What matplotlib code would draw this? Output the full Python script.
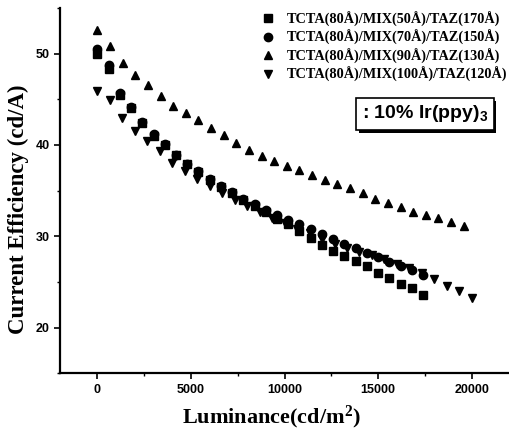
import matplotlib
matplotlib.use("Agg")
import matplotlib.pyplot as plt
from matplotlib.ticker import MultipleLocator
import matplotlib.patheffects as pe

# luminance steps (cd/m^2) per device
x_50 = [600 * i for i in range(30)]
x_70 = [600 * i for i in range(30)]
x_90 = [675 * i for i in range(30)]
x_100 = [667 * i for i in range(31)]

eff_50 = [50.0, 48.3, 45.5, 44.0, 42.4, 41.0, 40.0, 38.9, 37.9, 37.0,
          36.1, 35.4, 34.7, 34.0, 33.3, 32.6, 31.9, 31.3, 30.6, 29.8,
          29.0, 28.4, 27.8, 27.3, 26.7, 26.0, 25.4, 24.8, 24.3, 23.6]
eff_70 = [50.5, 48.7, 45.7, 44.2, 42.5, 41.2, 40.1, 38.9, 37.9, 37.1,
          36.3, 35.5, 34.8, 34.1, 33.5, 32.9, 32.3, 31.8, 31.3, 30.8,
          30.2, 29.7, 29.2, 28.7, 28.2, 27.7, 27.2, 26.7, 26.3, 25.8]
eff_90 = [52.6, 50.8, 49.0, 47.7, 46.5, 45.4, 44.3, 43.5, 42.7, 41.9,
          41.1, 40.2, 39.4, 38.8, 38.2, 37.7, 37.2, 36.7, 36.2, 35.7,
          35.3, 34.7, 34.1, 33.6, 33.2, 32.7, 32.3, 32.0, 31.6, 31.1]
eff_100 = [45.9, 44.9, 42.9, 41.5, 40.4, 39.3, 38.0, 37.1, 36.3, 35.5,
           34.7, 34.0, 33.3, 32.6, 32.0, 31.4, 30.8, 30.3, 29.7, 29.2,
           28.7, 28.3, 27.9, 27.5, 27.0, 26.5, 26.0, 25.3, 24.6, 24.0, 23.2]

labels = ["TCTA(80Å)/MIX(50Å)/TAZ(170Å)",
          "TCTA(80Å)/MIX(70Å)/TAZ(150Å)",
          "TCTA(80Å)/MIX(90Å)/TAZ(130Å)",
          "TCTA(80Å)/MIX(100Å)/TAZ(120Å)"]

serif = "Liberation Serif"
sans = "Liberation Sans"

fig = plt.figure(figsize=(5.09, 4.37), dpi=100)
ax = fig.add_axes([0.118, 0.146, 0.882, 0.836])

series = [(x_50, eff_50, "s"), (x_70, eff_70, "o"),
          (x_90, eff_90, "^"), (x_100, eff_100, "v")]
for (xs, ys, m), lab in zip(series, labels):
    ax.plot(xs, ys, linestyle="none", marker=m, color="black", markersize=6, label=lab)

ax.set_xlim(-2000, 22000)
ax.set_ylim(15, 55)
ax.xaxis.set_major_locator(MultipleLocator(5000))
ax.xaxis.set_minor_locator(MultipleLocator(2500))
ax.yaxis.set_major_locator(MultipleLocator(10))
ax.yaxis.set_minor_locator(MultipleLocator(5))
ax.tick_params(which="major", length=4, width=1.2, labelsize=9)
ax.tick_params(which="minor", length=2.5, width=1)
for lbl in ax.get_xticklabels() + ax.get_yticklabels():
    lbl.set_fontfamily(sans)
    lbl.set_fontweight("bold")

for s in ["top", "right"]:
    ax.spines[s].set_visible(False)
for s in ["left", "bottom"]:
    ax.spines[s].set_linewidth(1.6)

ax.set_xlabel("Luminance(cd/m$\\mathregular{^2}$)", fontfamily=serif, fontweight="bold", fontsize=16)
ax.xaxis.set_label_coords(0.47, -0.085)
ax.set_ylabel("Current Efficiency (cd/A)", fontfamily=serif, fontweight="bold", fontsize=16.5)
ax.yaxis.set_label_coords(-0.07, 0.45)

leg = ax.legend(loc="upper right", bbox_to_anchor=(1.025, 1.025), frameon=False,
                prop={"family": serif, "weight": "bold", "size": 10.3},
                handletextpad=0.8, labelspacing=0.24, markerscale=1.0, handlelength=1.0)

ax.text(0.672, 0.71, ": 10% Ir(ppy)$\\mathregular{_3}$", transform=ax.transAxes,
        fontfamily=sans, fontweight="bold", fontsize=14, ha="left", va="center",
        bbox=dict(boxstyle="square,pad=0.28", facecolor="white", edgecolor="black", linewidth=1.2,
                  path_effects=[pe.withSimplePatchShadow(offset=(2, -2), shadow_rgbFace="black", alpha=1)]))

fig.savefig("out.png", dpi=100)
